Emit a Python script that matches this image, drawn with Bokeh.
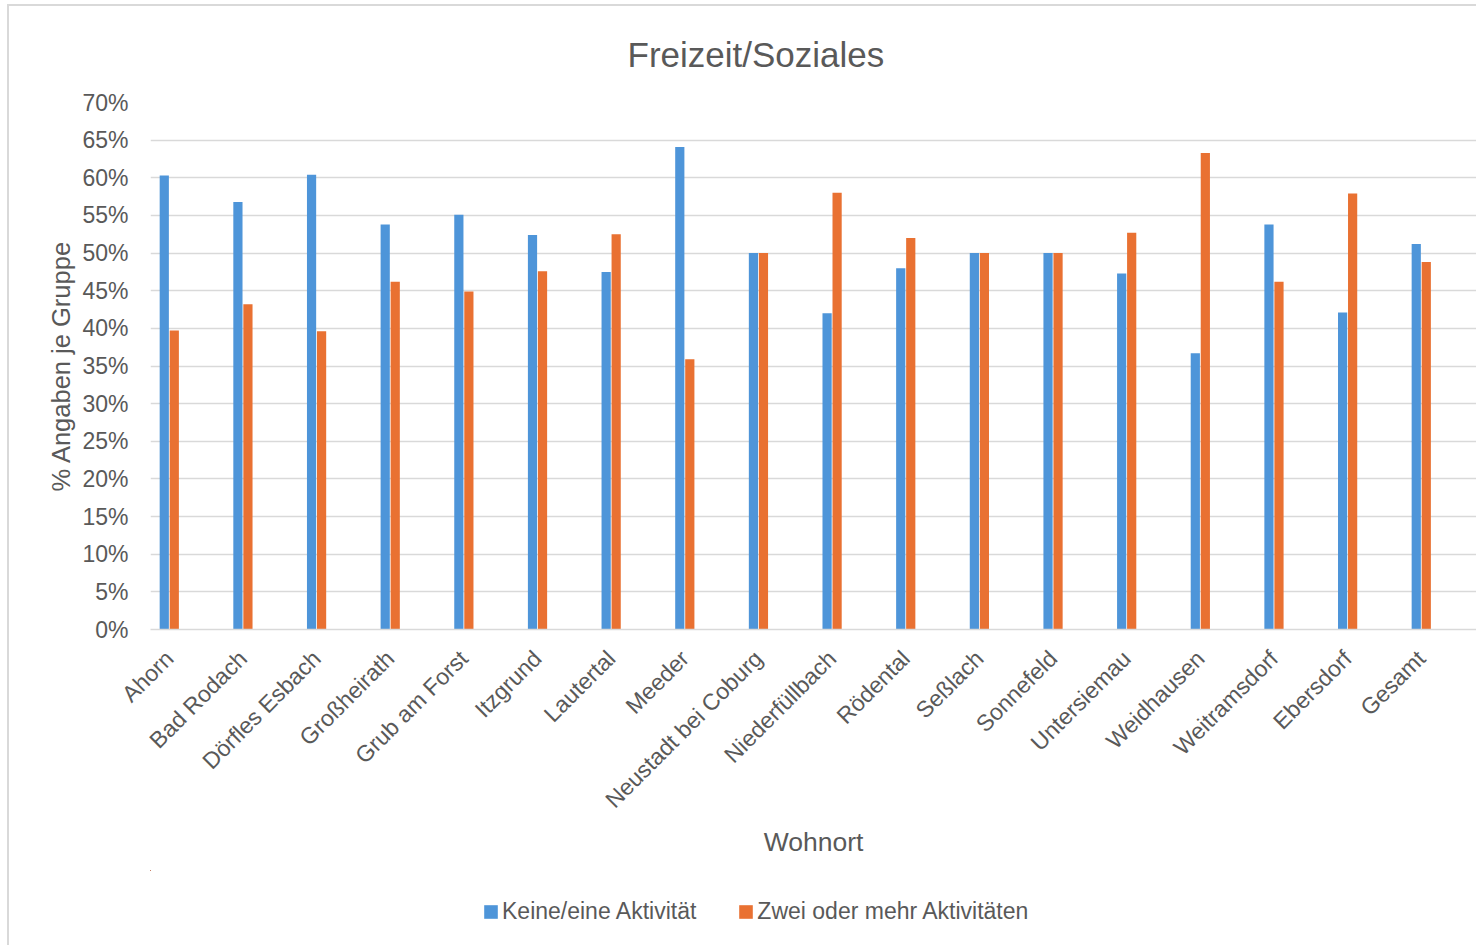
import math
from bokeh.plotting import figure
from bokeh.layouts import column
from bokeh.models import (Range1d, FixedTicker, PrintfTickFormatter, Legend, LegendItem,
                          ColumnDataSource)
from bokeh.embed import file_html
from bokeh.resources import INLINE

categories = ["Ahorn", "Bad Rodach", "Dörfles Esbach", "Großheirath", "Grub am Forst",
              "Itzgrund", "Lautertal", "Meeder", "Neustadt bei Coburg", "Niederfüllbach",
              "Rödental", "Seßlach", "Sonnefeld", "Untersiemau", "Weidhausen",
              "Weitramsdorf", "Ebersdorf", "Gesamt"]
keine = [60.3, 56.8, 60.4, 53.8, 55.1, 52.4, 47.5, 64.1, 50.0, 42.0,
         48.0, 50.0, 50.0, 47.3, 36.7, 53.8, 42.1, 51.2]
zwei = [39.7, 43.2, 39.6, 46.2, 44.9, 47.6, 52.5, 35.9, 50.0, 58.0,
        52.0, 50.0, 50.0, 52.7, 63.3, 46.2, 57.9, 48.8]
series_names = ["Keine/eine Aktivität", "Zwei oder mehr Aktivitäten"]
y_ticks = [0, 5, 10, 15, 20, 25, 30, 35, 40, 45, 50, 55, 60, 65, 70]

FONT = "Liberation Sans"
TXT = "#595959"
GRID = "#D9D9D9"
BLUE = "#4E95D9"
ORANGE = "#E97132"

idx = list(range(len(categories)))
src = ColumnDataSource(dict(
    xb=[i - 0.068 for i in idx],
    xo=[i + 0.068 for i in idx],
    keine=keine, zwei=zwei))

# ---------------- main chart ----------------
p = figure(width=1476, height=870, output_backend="svg", toolbar_location=None,
           x_range=Range1d(-0.255, 17.75), y_range=Range1d(0, 70),
           min_border_left=150, min_border_right=0, min_border_top=102,
           min_border_bottom=241)
p.border_fill_color = None
p.background_fill_color = None
p.styles = {
    "background-image": "linear-gradient(#D9D9D9,#D9D9D9), linear-gradient(#D9D9D9,#D9D9D9)",
    "background-size": "2px 100%, 100% 2px",
    "background-position": "7px 4px, 7px 4px",
    "background-repeat": "no-repeat",
}

p.title.text = "Freizeit/Soziales"
p.title.align = "left"
p.title.offset = 477
p.title.text_font = FONT
p.title.text_font_size = "35px"
p.title.text_font_style = "normal"
p.title.text_color = TXT
p.title.standoff = 58

p.vbar(x="xb", top="keine", width=0.125, source=src, fill_color=BLUE, line_color=None)
p.vbar(x="xo", top="zwei", width=0.125, source=src, fill_color=ORANGE, line_color=None)

p.outline_line_color = None
p.xgrid.visible = False
p.ygrid.grid_line_color = GRID
p.ygrid.grid_line_width = 1.5
p.ygrid.ticker = FixedTicker(ticks=y_ticks)

ya = p.yaxis[0]
ya.ticker = FixedTicker(ticks=y_ticks)
ya.formatter = PrintfTickFormatter(format="%d%%")
ya.axis_line_color = None
ya.major_tick_line_color = None
ya.minor_tick_line_color = None
ya.major_label_text_font = FONT
ya.major_label_text_font_size = "23px"
ya.major_label_text_color = TXT
ya.major_label_standoff = 16
ya.axis_label = "% Angaben je Gruppe"
ya.axis_label_text_font = FONT
ya.axis_label_text_font_size = "25.5px"
ya.axis_label_text_font_style = "normal"
ya.axis_label_text_color = TXT
ya.axis_label_standoff = 4

xa = p.xaxis[0]
xa.ticker = FixedTicker(ticks=idx)
xa.major_label_overrides = {i: c for i, c in enumerate(categories)}
xa.major_label_orientation = math.pi / 4
xa.axis_line_color = GRID
xa.axis_line_width = 1.5
xa.major_tick_line_color = None
xa.minor_tick_line_color = None
xa.major_label_text_font = FONT
xa.major_label_text_font_size = "23px"
xa.major_label_text_color = TXT
xa.major_label_standoff = 19
xa.axis_label = "Wohnort"
xa.axis_label_text_font = FONT
xa.axis_label_text_font_size = "26.5px"
xa.axis_label_text_font_style = "normal"
xa.axis_label_text_color = TXT
xa.axis_label_standoff = 2

# ---------------- legend strip ----------------
p2 = figure(width=1476, height=75, output_backend="svg", toolbar_location=None,
            x_range=Range1d(100, 101), y_range=Range1d(-2, -1),
            x_axis_location=None, y_axis_location=None, min_border=0)
p2.border_fill_color = None
p2.background_fill_color = None
p2.outline_line_color = None
p2.grid.visible = False
p2.styles = {
    "background-image": "linear-gradient(#D9D9D9,#D9D9D9)",
    "background-size": "2px 100%",
    "background-position": "7px 0px",
    "background-repeat": "no-repeat",
}
lb = p2.vbar(x="xb", top="keine", width=0.125, source=src, fill_color=BLUE, line_color=None)
lo = p2.vbar(x="xo", top="zwei", width=0.125, source=src, fill_color=ORANGE, line_color=None)

legend = Legend(items=[LegendItem(label=series_names[0], renderers=[lb]),
                       LegendItem(label=series_names[1], renderers=[lo])],
                orientation="horizontal", location=(332, 20),
                label_text_font=FONT, label_text_font_size="23px",
                label_text_color=TXT, glyph_width=17, glyph_height=17,
                label_standoff=3, spacing=41, padding=0, margin=0,
                border_line_color=None, background_fill_alpha=0)
p2.add_layout(legend, "center")

layout = column(p, p2, spacing=0)
open("out.html", "w").write(file_html(layout, INLINE))
